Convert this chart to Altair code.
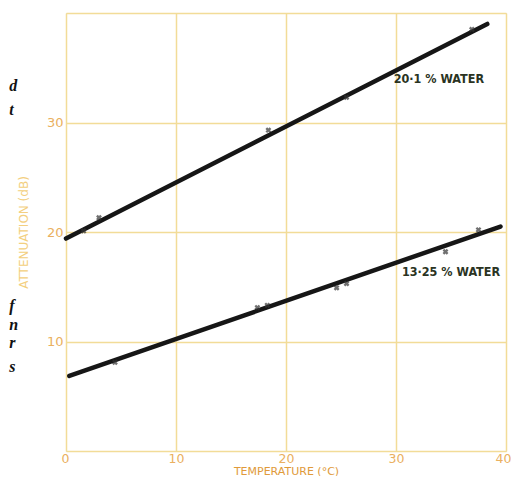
import altair as alt
import pandas as pd

# Fitted lines (temperature °C, attenuation dB)
upper_line_x = [0.0, 38.3]
upper_line_y = [19.4, 39.0]
lower_line_x = [0.3, 39.5]
lower_line_y = [6.85, 20.5]

# Measured points ("x" marks)
upper_pts_x = [1.6, 3.0, 18.4, 25.5, 36.9]
upper_pts_y = [20.1, 21.3, 29.3, 32.3, 38.5]
lower_pts_x = [4.45, 17.4, 18.3, 24.6, 25.5, 34.5, 37.5]
lower_pts_y = [8.1, 13.1, 13.3, 14.9, 15.3, 18.2, 20.2]

# Curve labels
label_text = ["20·1 % WATER", "13·25 % WATER"]
label_x = [33.9, 35.0]
label_y = [34.0, 16.35]

# Fragments of page text at the left edge
frag_text = ["d", "t", "f", "n", "r", "s"]
frag_y = [33.3, 31.1, 13.2, 11.5, 9.9, 7.7]
frag_x = [-5.15, -5.15, -5.15, -5.15, -5.15, -5.15]

x_ticks = [0, 10, 20, 30, 40]
y_ticks = [0, 10, 20, 30, 40]

lines = pd.DataFrame({
    "t": upper_line_x + lower_line_x,
    "a": upper_line_y + lower_line_y,
    "s": ["u"] * len(upper_line_x) + ["l"] * len(lower_line_x),
})
pts = pd.DataFrame({"t": upper_pts_x + lower_pts_x, "a": upper_pts_y + lower_pts_y})
labels = pd.DataFrame({"t": label_x, "a": label_y, "txt": label_text})
frags = pd.DataFrame({"t": frag_x, "a": frag_y, "txt": frag_text})

ax_col = "#eab060"
xs = alt.Scale(domain=[0, 40], nice=False)
ys = alt.Scale(domain=[0, 40], nice=False)

x_enc = alt.X("t:Q", scale=xs, axis=alt.Axis(
    values=x_ticks, title="TEMPERATURE (°C)", domain=False, ticks=False,
    labelColor=ax_col, labelFontSize=12.5, labelFont="DejaVu Sans", labelPadding=1,
    labelFlush=True, labelFlushOffset=5,
    titleColor="#e09a3a", titleFontSize=11, titleFont="DejaVu Sans", titleFontWeight="normal",
    titleBaseline="alphabetic", titleY=23, gridColor="#f2dc98", gridWidth=1.5))
y_enc = alt.Y("a:Q", scale=ys, axis=alt.Axis(
    values=y_ticks, title="ATTENUATION (dB)", domain=False, ticks=False,
    labelExpr="datum.value == 0 || datum.value == 40 ? '' : datum.label",
    labelColor=ax_col, labelFontSize=13, labelFont="DejaVu Sans", labelPadding=3,
    titleColor="#f3cf80", titleFontSize=12, titleFont="DejaVu Sans", titleFontWeight="normal",
    titlePadding=16, gridColor="#f2dc98", gridWidth=1.5))

line_layer = alt.Chart(lines).mark_line(color="#161616", strokeWidth=4.5, strokeCap="round").encode(
    x=x_enc, y=y_enc, detail="s:N")
pt_layer = alt.Chart(pts).mark_point(shape="cross", angle=45, size=35, filled=True,
                                     color="#333333").encode(x="t:Q", y="a:Q")
lab_layer = alt.Chart(labels).mark_text(color="#2a3322", fontSize=12.5, font="DejaVu Sans Condensed",
                                        fontWeight="bold").encode(x="t:Q", y="a:Q", text="txt:N")
frag_layer = alt.Chart(frags).mark_text(color="#111111", fontSize=16, font="Liberation Serif",
                                        fontStyle="italic", fontWeight="bold", align="left",
                                        clip=False).encode(x="t:Q", y="a:Q", text="txt:N")

chart = alt.layer(line_layer, pt_layer, lab_layer, frag_layer).properties(
    width=440, height=438,
    autosize=alt.AutoSizeParams(type="none"),
    padding={"left": 58, "top": 5, "right": 5, "bottom": 25},
).configure_view(stroke="#f0c878", strokeWidth=1.5).configure(background="white")

chart.save("out.html", embed_options={"renderer": "svg", "actions": False})
